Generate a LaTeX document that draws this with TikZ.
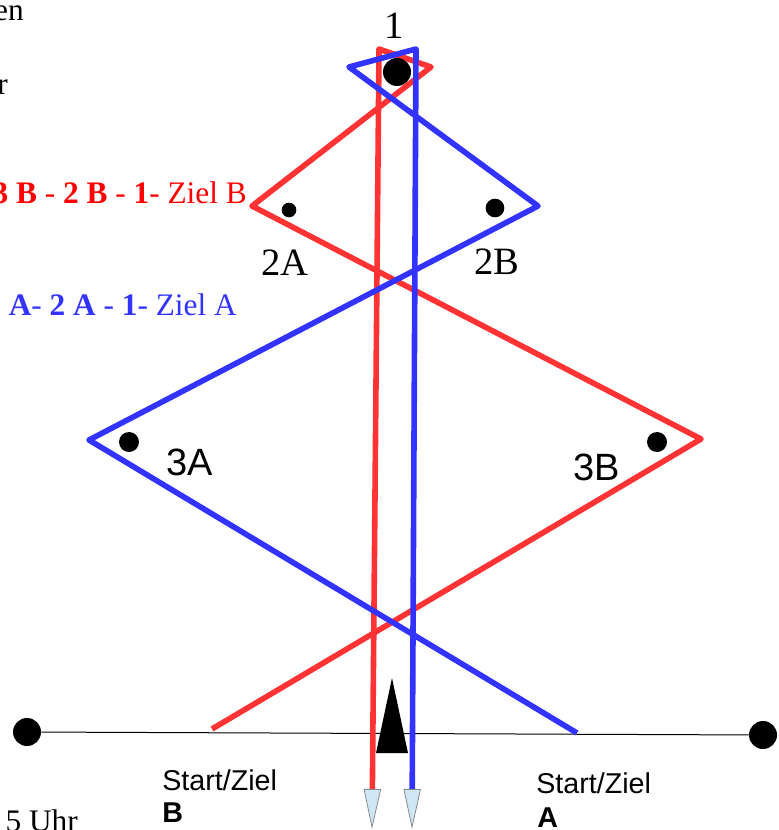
\documentclass[tikz,border=0pt]{standalone}
\usepackage{fontspec}
\setmainfont{Liberation Serif}
\setsansfont{Liberation Sans}
\usetikzlibrary{arrows.meta}

\definecolor{wegrot}{HTML}{FF3333}
\definecolor{wegblau}{HTML}{3333FF}
\definecolor{textrot}{HTML}{FF0000}
\definecolor{spitzeblau}{HTML}{CFE6F4}
\definecolor{spitzegrau}{HTML}{8A8A8A}

\begin{document}
\begin{tikzpicture}[x=0.75pt, y=-0.75pt, line join=round,
    weg/.style={line width=4.2pt},
    spitze/.style={-{Triangle[length=30pt, width=13pt, line width=0.6pt, color=spitzegrau, fill=spitzeblau]}},
    punkt/.style={circle, fill=black, inner sep=0pt, minimum size=#1},
    txt/.style={inner sep=0pt}]
        % ---------------------------------------------------
        % Bildausschnitt (Pixelraster des Originals)
        % ---------------------------------------------------
        \useasboundingbox (0,0) rectangle (778,830);
        \clip (0,0) rectangle (778,830);

        % Eckpunkte Weg B (rot)
        \coordinate (r0) at (212,729);
        \coordinate (r3) at (701,439);
        \coordinate (r2) at (252,206);
        \coordinate (r1) at (431,67);
        \coordinate (r1b) at (379,49);
        \coordinate (rE) at (372,829);

        % Eckpunkte Weg A (blau)
        \coordinate (b0) at (577,733);
        \coordinate (b3) at (89,440);
        \coordinate (b2) at (538,206);
        \coordinate (b1) at (349,67);
        \coordinate (b1b) at (416,49);
        \coordinate (bE) at (412,829);

        % Bojen und Startlinie
        \node[punkt=21pt] (dotL) at (27,732) {};
        \node[punkt=21pt] (dotR) at (763,735) {};
        \draw[line width=0.75pt] (dotL) -- (dotR);

        % Wege
        \draw[weg, wegrot, spitze] (r0) -- (r3) -- (r2) -- (r1) -- (r1b) -- (rE);
        \draw[weg, wegblau, spitze] (b0) -- (b3) -- (b2) -- (b1) -- (b1b) -- (bE);

        % Wendemarken
        \node[punkt=21pt] (dot1) at (397,72) {};
        \node[punkt=11pt] (dot2A) at (289,210) {};
        \node[punkt=14pt] (dot2B) at (495,208) {};
        \node[punkt=15pt] (dot3A) at (129,442) {};
        \node[punkt=15pt] (dot3B) at (657,442) {};

        % Startschiff
        \fill (392,678) -- (376,753) -- (408,753) -- cycle;

        % Beschriftung der Marken
        \node[txt, font=\fontsize{29}{34}\selectfont, anchor=base] (lbl1) at (394,39) {1};
        \node[txt, font=\fontsize{29}{34}\selectfont, anchor=base] (lbl2A) at (285,276) {2A};
        \node[txt, font=\fontsize{29}{34}\selectfont, anchor=base] (lbl2B) at (497,274) {2B};
        \node[txt, font=\sffamily\fontsize{28.5}{34}\selectfont, anchor=base] (lbl3A) at (190,475) {3A};
        \node[txt, font=\sffamily\fontsize{28.5}{34}\selectfont, anchor=base] (lbl3B) at (597,480) {3B};

        % Start/Ziel
        \node[txt, font=\sffamily\fontsize{21.5}{24}\selectfont, anchor=base west] (startB) at (162,790) {Start/Ziel};
        \node[txt, font=\sffamily\bfseries\fontsize{21.5}{24}\selectfont, anchor=base west] (zielB) at (162,822) {B};
        \node[txt, font=\sffamily\fontsize{21.5}{24}\selectfont, anchor=base west] (startA) at (536,793) {Start/Ziel};
        \node[txt, font=\sffamily\bfseries\fontsize{21.5}{24}\selectfont, anchor=base west] (zielA) at (537,827) {A};

        % Text links (abgeschnitten)
        \node[txt, font=\fontsize{23.5}{28}\selectfont, anchor=base east] (txtA) at (24,21) {en};
        \node[txt, font=\fontsize{23.5}{28}\selectfont, anchor=base east] (txtB) at (8,95) {r};
        \node[txt, font=\fontsize{23.5}{28}\selectfont, text=textrot, anchor=base east] (kursB) at (247,204)
            {\textbf{3 B} - \textbf{2 B} - \textbf{1}- Ziel B};
        \node[txt, font=\fontsize{23.5}{28}\selectfont, text=wegblau, anchor=base east] (kursA) at (237,315)
            {\textbf{3 A}- \textbf{2 A} - \textbf{1}- Ziel A};
        \node[txt, font=\fontsize{23.5}{28}\selectfont, anchor=base east] (zeit) at (78,831) {5 Uhr};

    \end{tikzpicture}
\end{document}
